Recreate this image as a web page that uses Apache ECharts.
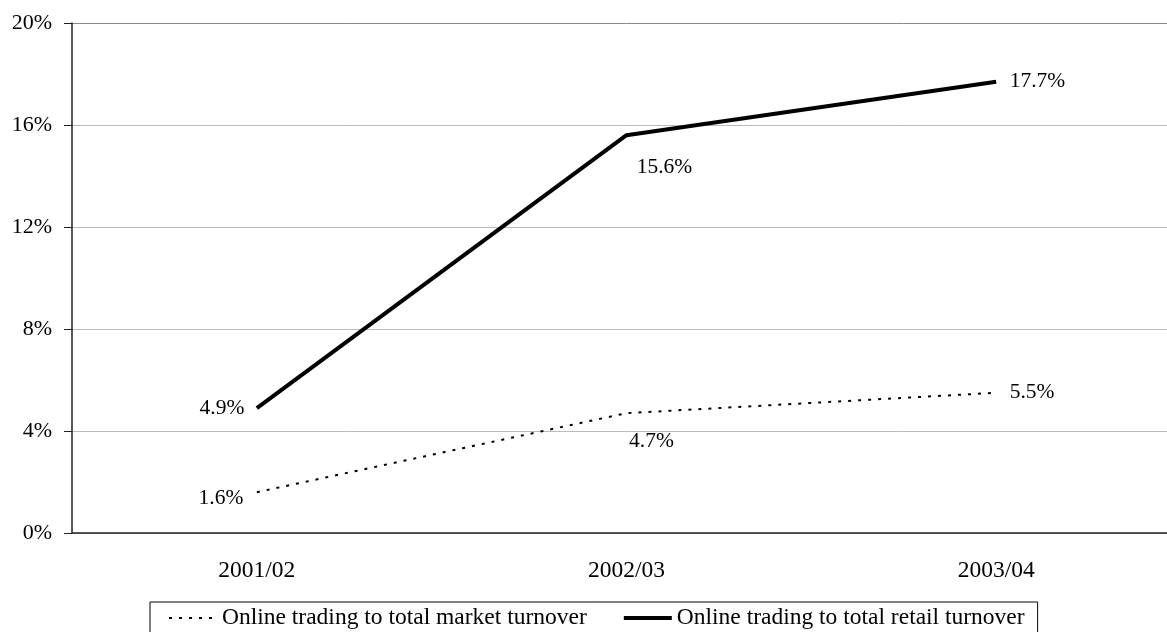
<!DOCTYPE html>
<html>
<head>
<meta charset="utf-8">
<script src="https://cdn.jsdelivr.net/npm/echarts@6/dist/echarts.min.js"></script>
<style>
  html, body { margin: 0; padding: 0; background: #fff; overflow: hidden; }
  /* the original plot runs a little past the right edge of the picture */
  #chart { width: 1181px; height: 632px; }
</style>
</head>
<body>
<div id="chart"></div>
<script>
// data
const categories = ["2001/02", "2002/03", "2003/04"];
const marketShare = [1.6, 4.7, 5.5];
const retailShare = [4.9, 15.6, 17.7];
const seriesNames = [
  "Online trading to total market turnover",
  "Online trading to total retail turnover"
];

const FONT = "Liberation Serif";

// label placement per point (left / below-right / right)
const marketLabels = [
  { position: "left", distance: 13, offset: [0, 6] },
  { position: "bottom", offset: [25, 12] },
  { position: "right", distance: 13 }
];
const retailLabels = [
  { position: "left", distance: 12 },
  { position: "bottom", offset: [38, 16] },
  { position: "right", distance: 13 }
];

function buildData(values, labels) {
  return values.map((v, i) => ({
    value: v,
    label: Object.assign({ show: true }, labels[i])
  }));
}

const chart = echarts.init(document.getElementById("chart"));

const labelStyle = {
  formatter: (p) => p.value.toFixed(1) + "%",
  fontFamily: FONT,
  fontSize: 21.5,
  color: "#000"
};

const option = {
  animation: false,
  textStyle: { fontFamily: FONT, color: "#000" },
  grid: { left: 72, top: 23, width: 1109, height: 510 },
  legend: {
    left: 150,
    top: 602,
    padding: [4, 13, 4, 18],
    borderColor: "#000",
    borderWidth: 1,
    itemGap: 35,
    itemWidth: 48,
    itemHeight: 14,
    textStyle: { fontFamily: FONT, fontSize: 23.5, color: "#000" },
    data: [
      { name: seriesNames[0], lineStyle: { width: 2 } },
      { name: seriesNames[1], lineStyle: { width: 4 } }
    ]
  },
  xAxis: {
    type: "category",
    data: categories,
    boundaryGap: true,
    axisLine: { lineStyle: { color: "#222", width: 1.5 } },
    axisTick: { length: 7, lineStyle: { color: "#222" } },
    axisLabel: { margin: 26, fontFamily: FONT, fontSize: 23.5, color: "#000" }
  },
  yAxis: {
    type: "value",
    min: 0,
    max: 20,
    interval: 4,
    axisLine: { show: true, lineStyle: { color: "#222", width: 1.5 } },
    axisTick: { show: true, length: 8, lineStyle: { color: "#222" } },
    axisLabel: {
      formatter: "{value}%",
      margin: 20,
      fontFamily: FONT,
      fontSize: 22,
      color: "#000"
    },
    splitLine: {
      lineStyle: { color: ["#bbb", "#bbb", "#bbb", "#bbb", "#bbb", "#888"], width: 1 }
    }
  },
  series: [
    {
      name: seriesNames[0],
      type: "line",
      symbol: "circle",
      symbolSize: 1,
      data: buildData(marketShare, marketLabels),
      lineStyle: { color: "#000", width: 2, type: [3, 7] },
      itemStyle: { color: "rgba(0,0,0,0)" },
      label: labelStyle
    },
    {
      name: seriesNames[1],
      type: "line",
      symbol: "circle",
      symbolSize: 1,
      data: buildData(retailShare, retailLabels),
      lineStyle: { color: "#000", width: 4 },
      itemStyle: { color: "rgba(0,0,0,0)" },
      label: labelStyle
    }
  ]
};

chart.setOption(option);
</script>
</body>
</html>
